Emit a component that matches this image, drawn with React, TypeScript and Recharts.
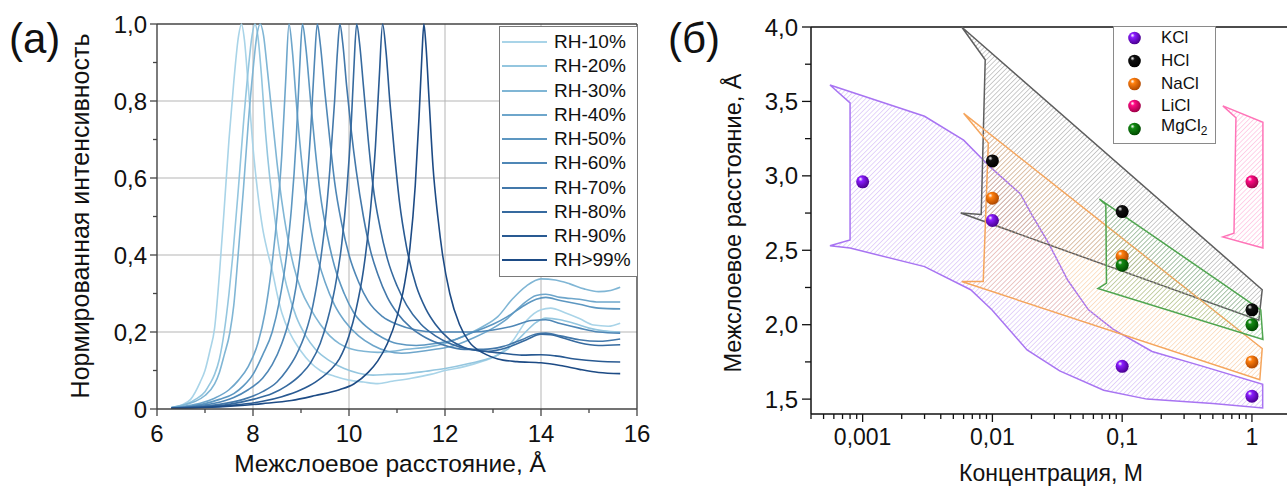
import React from 'react';
import {
  LineChart,
  Line,
  XAxis,
  YAxis,
  ReferenceLine,
  Legend,
  ScatterChart,
  Scatter,
} from 'recharts';

const FONT = '"Liberation Sans", Arial, Helvetica, sans-serif';

// ---------- (а) normalized XRD profiles vs. interlayer spacing ----------
const rhNames = ['RH-10%', 'RH-20%', 'RH-30%', 'RH-40%', 'RH-50%', 'RH-60%', 'RH-70%', 'RH-80%', 'RH-90%', 'RH>99%'];
const rhColors = ['#a9d4e8', '#94c6df', '#80b6d5', '#6ea6cb', '#5d97c1', '#4f87b6', '#4378aa', '#366a9f', '#295a92', '#1d4b85'];

type Pt = [number, number];

const rh10: Pt[] = [
  [6.3, 0.004], [6.5, 0.01], [6.7, 0.025], [6.9, 0.07], [7.0, 0.1], [7.1, 0.15], [7.2, 0.21], [7.3, 0.35],
  [7.4, 0.52], [7.5, 0.7], [7.6, 0.85], [7.7, 0.97], [7.76, 1.0], [7.82, 0.96], [7.9, 0.84], [8.0, 0.68],
  [8.1, 0.56], [8.2, 0.47], [8.3, 0.41], [8.4, 0.36], [8.5, 0.3], [8.6, 0.25], [8.8, 0.19], [9.0, 0.15],
  [9.2, 0.12], [9.4, 0.1], [9.7, 0.085], [10.0, 0.075], [10.3, 0.07], [10.6, 0.066], [10.9, 0.072],
  [11.3, 0.08], [11.7, 0.09], [12.0, 0.1], [12.4, 0.11], [12.8, 0.125], [13.1, 0.14], [13.4, 0.175],
  [13.7, 0.23], [14.0, 0.258], [14.2, 0.262], [14.5, 0.25], [14.8, 0.235], [15.1, 0.218], [15.4, 0.215], [15.65, 0.223],
];
const rh20: Pt[] = [
  [6.3, 0.004], [6.6, 0.012], [6.8, 0.025], [7.0, 0.045], [7.1, 0.065], [7.2, 0.09], [7.3, 0.13], [7.4, 0.2],
  [7.5, 0.3], [7.58, 0.4], [7.7, 0.58], [7.8, 0.74], [7.9, 0.88], [7.98, 0.97], [8.04, 1.0], [8.1, 0.97],
  [8.18, 0.86], [8.26, 0.72], [8.35, 0.6], [8.45, 0.5], [8.55, 0.41], [8.7, 0.32], [8.9, 0.24], [9.1, 0.19],
  [9.3, 0.155], [9.6, 0.125], [9.9, 0.105], [10.2, 0.093], [10.5, 0.088], [10.8, 0.09], [11.2, 0.092],
  [11.6, 0.098], [12.0, 0.105], [12.5, 0.118], [13.0, 0.135], [13.3, 0.155], [13.6, 0.19], [13.9, 0.225],
  [14.1, 0.236], [14.4, 0.232], [14.7, 0.222], [15.0, 0.21], [15.3, 0.203], [15.65, 0.2],
];
const rh30: Pt[] = [
  [6.3, 0.004], [6.6, 0.012], [6.8, 0.02], [7.0, 0.035], [7.2, 0.065], [7.3, 0.095], [7.4, 0.14], [7.52, 0.2],
  [7.6, 0.27], [7.69, 0.4], [7.8, 0.57], [7.9, 0.74], [8.0, 0.88], [8.08, 0.97], [8.15, 1.0], [8.22, 0.97],
  [8.3, 0.88], [8.4, 0.76], [8.5, 0.64], [8.6, 0.54], [8.7, 0.46], [8.85, 0.37], [9.0, 0.31], [9.2, 0.26],
  [9.4, 0.22], [9.6, 0.19], [9.8, 0.17], [10.0, 0.158], [10.3, 0.15], [10.6, 0.147], [10.9, 0.15],
  [11.2, 0.155], [11.6, 0.16], [12.0, 0.17], [12.4, 0.19], [12.8, 0.215], [13.1, 0.24], [13.4, 0.285],
  [13.7, 0.32], [14.0, 0.338], [14.3, 0.335], [14.6, 0.325], [14.9, 0.312], [15.2, 0.305], [15.45, 0.308], [15.65, 0.316],
];
const rh40: Pt[] = [
  [6.3, 0.003], [6.6, 0.008], [6.9, 0.015], [7.2, 0.028], [7.5, 0.05], [7.7, 0.075], [7.9, 0.11], [8.1, 0.17],
  [8.25, 0.25], [8.38, 0.36], [8.5, 0.5], [8.6, 0.66], [8.68, 0.85], [8.75, 1.0], [8.82, 0.93], [8.9, 0.8],
  [9.0, 0.66], [9.1, 0.55], [9.2, 0.47], [9.35, 0.39], [9.5, 0.33], [9.7, 0.27], [9.9, 0.23], [10.2, 0.19],
  [10.5, 0.165], [10.8, 0.15], [11.1, 0.145], [11.4, 0.148], [11.8, 0.155], [12.2, 0.165], [12.6, 0.185],
  [13.0, 0.21], [13.3, 0.235], [13.6, 0.27], [13.9, 0.295], [14.1, 0.298], [14.4, 0.29], [14.8, 0.285],
  [15.2, 0.278], [15.65, 0.278],
];
const rh50: Pt[] = [
  [6.3, 0.003], [6.7, 0.008], [7.0, 0.014], [7.3, 0.025], [7.6, 0.04], [7.8, 0.06], [8.0, 0.09], [8.2, 0.14],
  [8.4, 0.2], [8.55, 0.28], [8.7, 0.4], [8.8, 0.52], [8.9, 0.7], [8.97, 0.88], [9.03, 1.0], [9.1, 0.94],
  [9.2, 0.8], [9.3, 0.67], [9.4, 0.56], [9.55, 0.45], [9.7, 0.37], [9.9, 0.3], [10.1, 0.25], [10.4, 0.21],
  [10.7, 0.185], [11.0, 0.17], [11.4, 0.165], [11.8, 0.17], [12.2, 0.18], [12.6, 0.2], [13.0, 0.22],
  [13.3, 0.24], [13.6, 0.265], [13.9, 0.285], [14.1, 0.29], [14.4, 0.282], [14.8, 0.272], [15.2, 0.262], [15.65, 0.26],
];
const rh60: Pt[] = [
  [6.3, 0.003], [6.8, 0.008], [7.2, 0.015], [7.6, 0.03], [7.9, 0.05], [8.2, 0.08], [8.4, 0.115], [8.6, 0.17],
  [8.75, 0.23], [8.9, 0.32], [9.0, 0.42], [9.1, 0.55], [9.2, 0.72], [9.28, 0.9], [9.34, 1.0], [9.4, 0.95],
  [9.5, 0.82], [9.6, 0.7], [9.7, 0.59], [9.85, 0.48], [10.0, 0.4], [10.2, 0.33], [10.4, 0.28], [10.7, 0.24],
  [11.0, 0.22], [11.4, 0.205], [11.8, 0.2], [12.2, 0.2], [12.6, 0.2], [13.0, 0.205], [13.4, 0.215],
  [13.8, 0.23], [14.1, 0.232], [14.4, 0.222], [14.8, 0.21], [15.2, 0.2], [15.65, 0.197],
];
const rh70: Pt[] = [
  [6.3, 0.002], [6.8, 0.006], [7.3, 0.012], [7.8, 0.025], [8.2, 0.045], [8.5, 0.07], [8.7, 0.1], [8.9, 0.14],
  [9.1, 0.2], [9.25, 0.27], [9.4, 0.38], [9.5, 0.48], [9.6, 0.62], [9.7, 0.8], [9.76, 0.93], [9.81, 1.0],
  [9.87, 0.95], [9.95, 0.84], [10.05, 0.72], [10.15, 0.62], [10.3, 0.5], [10.45, 0.41], [10.6, 0.35],
  [10.8, 0.29], [11.0, 0.25], [11.3, 0.21], [11.6, 0.185], [12.0, 0.165], [12.4, 0.155], [12.8, 0.155],
  [13.2, 0.162], [13.6, 0.18], [13.9, 0.195], [14.1, 0.197], [14.4, 0.19], [14.8, 0.18], [15.2, 0.176], [15.65, 0.182],
];
const rh80: Pt[] = [
  [6.3, 0.002], [6.9, 0.005], [7.5, 0.012], [8.0, 0.025], [8.4, 0.04], [8.7, 0.06], [9.0, 0.09], [9.2, 0.12],
  [9.4, 0.17], [9.55, 0.23], [9.7, 0.31], [9.85, 0.43], [9.95, 0.56], [10.05, 0.75], [10.1, 0.88], [10.16, 1.0],
  [10.22, 0.95], [10.3, 0.84], [10.4, 0.7], [10.5, 0.58], [10.65, 0.47], [10.8, 0.39], [11.0, 0.32],
  [11.2, 0.27], [11.5, 0.22], [11.8, 0.19], [12.1, 0.17], [12.5, 0.155], [12.9, 0.15], [13.3, 0.16],
  [13.7, 0.18], [14.0, 0.194], [14.2, 0.193], [14.5, 0.183], [14.8, 0.172], [15.2, 0.165], [15.65, 0.167],
];
const rh90: Pt[] = [
  [6.3, 0.002], [7.0, 0.005], [7.6, 0.01], [8.2, 0.02], [8.6, 0.032], [9.0, 0.05], [9.3, 0.07], [9.6, 0.1],
  [9.8, 0.13], [10.0, 0.19], [10.15, 0.26], [10.3, 0.36], [10.45, 0.52], [10.55, 0.68], [10.63, 0.86],
  [10.7, 1.0], [10.77, 0.93], [10.85, 0.8], [10.95, 0.66], [11.05, 0.54], [11.2, 0.42], [11.4, 0.32],
  [11.6, 0.26], [11.8, 0.22], [12.1, 0.18], [12.4, 0.16], [12.8, 0.15], [13.2, 0.145], [13.6, 0.14],
  [14.0, 0.141], [14.3, 0.138], [14.7, 0.13], [15.2, 0.124], [15.65, 0.122],
];
const rh99: Pt[] = [
  [6.3, 0.002], [7.0, 0.004], [7.6, 0.008], [8.2, 0.014], [8.8, 0.022], [9.3, 0.035], [9.8, 0.05],
  [10.1, 0.065], [10.4, 0.095], [10.6, 0.125], [10.8, 0.17], [11.0, 0.24], [11.15, 0.32], [11.27, 0.42],
  [11.38, 0.58], [11.46, 0.76], [11.52, 0.92], [11.56, 1.0], [11.6, 0.95], [11.67, 0.8], [11.75, 0.63],
  [11.85, 0.5], [11.95, 0.4], [12.1, 0.3], [12.3, 0.22], [12.5, 0.175], [12.8, 0.145], [13.1, 0.13],
  [13.5, 0.123], [14.0, 0.12], [14.4, 0.113], [14.8, 0.103], [15.2, 0.095], [15.65, 0.092],
];
const rhProfiles = [rh10, rh20, rh30, rh40, rh50, rh60, rh70, rh80, rh90, rh99];

const spacingTicks = [6, 7, 8, 9, 10, 11, 12, 13, 14, 15, 16];
const spacingGrid = [8, 10, 12, 14];
const intensityTicks = [0, 0.1, 0.2, 0.3, 0.4, 0.5, 0.6, 0.7, 0.8, 0.9, 1.0];
const intensityGrid = [0.2, 0.4, 0.6, 0.8];

// ---------- (б) interlayer spacing vs. electrolyte concentration ----------
const saltNames = ['KCl', 'HCl', 'NaCl', 'LiCl', 'MgCl2'];
const saltColors = ['#8a1cff', '#111111', '#ff7f0e', '#ff0a84', '#138a13'];
const saltDark = ['#4a0090', '#000000', '#b04800', '#a00048', '#004a00'];
const saltEdge = ['#a874f2', '#5e5e5e', '#f5a55c', '#ff74b8', '#4fa54f'];
const saltHatch = ['#c3a2f4', '#8c8c8c', '#f7bd86', '#ff9ccb', '#86c286'];

const kclPoints: Pt[] = [[0.001, 2.96], [0.01, 2.7], [0.1, 1.72], [1, 1.52]];
const hclPoints: Pt[] = [[0.01, 3.1], [0.1, 2.76], [1, 2.1]];
const naclPoints: Pt[] = [[0.01, 2.85], [0.1, 2.46], [1, 1.75]];
const liclPoints: Pt[] = [[1, 2.96]];
const mgcl2Points: Pt[] = [[0.1, 2.4], [1, 2.0]];
const saltPoints = [kclPoints, hclPoints, naclPoints, liclPoints, mgcl2Points];

// outlined, hatched regions (vertices in concentration / spacing units)
const kclRegion: Pt[] = [
  [0.00056, 3.61], [0.003, 3.4], [0.006, 3.24], [0.0096, 3.06], [0.0164, 2.88], [0.0198, 2.75],
  [0.027, 2.55], [0.038, 2.3], [0.055, 2.1], [0.085, 1.97], [0.17, 1.82], [0.42, 1.72], [1.21, 1.6],
  [1.21, 1.44], [0.5, 1.47], [0.155, 1.5], [0.072, 1.56], [0.033, 1.69], [0.0185, 1.83], [0.0099, 2.1],
  [0.0068, 2.235], [0.003, 2.39], [0.0008, 2.515], [0.00056, 2.53], [0.0008, 2.57], [0.0008, 3.49],
];
const hclRegion: Pt[] = [[0.0058, 4.0], [1.2, 2.235], [1.13, 2.03], [0.0057, 2.75], [0.0082, 2.74], [0.0088, 3.78]];
const naclRegion: Pt[] = [[0.006, 3.42], [1.2, 1.84], [1.15, 1.63], [0.0058, 2.29], [0.0085, 2.29], [0.0093, 3.22]];
const liclRegion: Pt[] = [[0.597, 3.47], [1.215, 3.36], [1.215, 2.515], [0.597, 2.59], [0.727, 2.615], [0.753, 3.39]];
const mgcl2Region: Pt[] = [[0.0668, 2.844], [1.17, 2.1], [1.215, 1.9], [0.0651, 2.243], [0.0757, 2.28], [0.0748, 2.806]];
const saltRegions = [kclRegion, hclRegion, naclRegion, liclRegion, mgcl2Region];
const regionOrder = [0, 1, 2, 4, 3];

const concTicks = [
  0.0004, 0.0005, 0.0006, 0.0007, 0.0008, 0.0009,
  0.001, 0.002, 0.003, 0.004, 0.005, 0.006, 0.007, 0.008, 0.009,
  0.01, 0.02, 0.03, 0.04, 0.05, 0.06, 0.07, 0.08, 0.09,
  0.1, 0.2, 0.3, 0.4, 0.5, 0.6, 0.7, 0.8, 0.9,
  1, 2,
];
const concMajor = [0.001, 0.01, 0.1, 1];
const concLabels = ['0,001', '0,01', '0,1', '1'];
const spacingTicksB = [1.5, 1.75, 2.0, 2.25, 2.5, 2.75, 3.0, 3.25, 3.5, 3.75, 4.0];

const toXY = (pts: Pt[]) => pts.map(([x, y]) => ({ x, y }));
const comma = (v: number, digits: number) => v.toFixed(digits).replace('.', ',');

// ---------- tick renderers ----------
const XTickA = (props: any) => {
  const { x, y, payload } = props;
  const v = payload.value as number;
  const major = v % 2 === 0;
  return (
    <g>
      <line x1={x} x2={x} y1={y} y2={y + (major ? 7 : 4)} stroke="#444" strokeWidth={1.3} />
      {major && (
        <text x={x} y={y + 33} textAnchor="middle" fontSize={24} fontFamily={FONT} fill="#111">
          {v}
        </text>
      )}
    </g>
  );
};

const YTickA = (props: any) => {
  const { x, y, payload } = props;
  const k = Math.round((payload.value as number) * 10);
  const major = k % 2 === 0;
  return (
    <g>
      <line x1={x - (major ? 7 : 4)} x2={x} y1={y} y2={y} stroke="#444" strokeWidth={1.3} />
      {major && (
        <text x={x - 10} y={y} dy="0.36em" textAnchor="end" fontSize={24} fontFamily={FONT} fill="#111">
          {k === 0 ? '0' : comma(k / 10, 1)}
        </text>
      )}
    </g>
  );
};

const XTickB = (props: any) => {
  const { x, y, payload } = props;
  const idx = concMajor.indexOf(payload.value as number);
  const major = idx >= 0;
  return (
    <g>
      <line x1={x} x2={x} y1={y} y2={y + (major ? 8 : 5)} stroke="#111" strokeWidth={1.3} />
      {major && (
        <text x={x} y={y + 31} textAnchor="middle" fontSize={23} fontFamily={FONT} fill="#111">
          {concLabels[idx]}
        </text>
      )}
    </g>
  );
};

const YTickB = (props: any) => {
  const { x, y, payload } = props;
  const v = payload.value as number;
  const major = Math.round(v * 4) % 2 === 0;
  return (
    <g>
      <line x1={x - (major ? 9 : 6)} x2={x} y1={y} y2={y} stroke="#111" strokeWidth={1.3} />
      {major && (
        <text x={x - 13} y={y} dy="0.36em" textAnchor="end" fontSize={24} fontFamily={FONT} fill="#111">
          {comma(v, 1)}
        </text>
      )}
    </g>
  );
};

// ---------- legends ----------
const RhLegend = (props: any) => {
  const payload = (props.payload || []) as any[];
  const entries = rhNames.map((n) => payload.find((p) => p.value === n)).filter(Boolean);
  return (
    <div
      style={{
        boxSizing: 'border-box',
        width: 139,
        height: 251,
        border: '1px solid #7a7a7a',
        background: '#fff',
        paddingTop: 3,
        fontFamily: FONT,
      }}
    >
      {entries.map((p: any) => (
        <div key={p.value} style={{ height: 24.25, display: 'flex', alignItems: 'center', whiteSpace: 'nowrap' }}>
          <svg width={52} height={6} style={{ marginLeft: 2, flex: 'none' }}>
            <line x1={0} x2={45} y1={3} y2={3} stroke={p.color} strokeWidth={2.2} />
          </svg>
          <span style={{ fontSize: 19, color: '#111', lineHeight: '20px' }}>{p.value}</span>
        </div>
      ))}
    </div>
  );
};

const saltLabel = (name: string) => {
  const m = name.match(/^(.*?)(\d+)$/);
  if (!m) return name;
  return (
    <>
      {m[1]}
      <sub style={{ fontSize: 12, verticalAlign: -4 }}>{m[2]}</sub>
    </>
  );
};

const SaltLegend = (props: any) => {
  const payload = (props.payload || []) as any[];
  const entries = saltNames.map((n) => payload.find((p) => p.value === n)).filter(Boolean);
  return (
    <div
      style={{
        boxSizing: 'border-box',
        width: 103,
        height: 118,
        border: '1px solid #8a8a8a',
        background: '#fff',
        paddingTop: 0,
        fontFamily: FONT,
      }}
    >
      {entries.map((p: any) => {
        const i = saltNames.indexOf(p.value);
        return (
          <div key={p.value} style={{ height: 22.65, display: 'flex', alignItems: 'center', whiteSpace: 'nowrap' }}>
            <svg width={47} height={16} style={{ flex: 'none' }}>
              <circle cx={20.5} cy={8} r={6.3} fill={`url(#ball-${i})`} />
            </svg>
            <span style={{ fontSize: 17, color: '#111', lineHeight: '18px' }}>{saltLabel(p.value)}</span>
          </div>
        );
      })}
    </div>
  );
};

const regionPath = (pts: { x: number; y: number }[]) =>
  pts.map((p, i) => `${i === 0 ? 'M' : 'L'}${p.x.toFixed(2)},${p.y.toFixed(2)}`).join(' ') + ' Z';

// ---------- panels ----------
const ProfilesPanel = () => (
  <LineChart width={660} height={486} margin={{ top: 24, right: 23, bottom: 37, left: 0 }}>
    <XAxis
      type="number"
      dataKey="x"
      domain={[6, 16]}
      ticks={spacingTicks}
      interval={0}
      tickSize={0}
      tickMargin={0}
      tickLine={false}
      tick={(p: any) => <XTickA {...p} />}
      height={40}
      axisLine={{ stroke: '#444', strokeWidth: 1.4 }}
    />
    <YAxis
      type="number"
      dataKey="y"
      domain={[0, 1]}
      ticks={intensityTicks}
      interval={0}
      tickSize={0}
      tickMargin={0}
      tickLine={false}
      tick={(p: any) => <YTickA {...p} />}
      width={157}
      axisLine={{ stroke: '#444', strokeWidth: 1.4 }}
    />
    {spacingGrid.map((v) => (
      <ReferenceLine key={`gx${v}`} x={v} stroke="#b5b5b5" strokeWidth={1} />
    ))}
    {intensityGrid.map((v) => (
      <ReferenceLine key={`gy${v}`} y={v} stroke="#b5b5b5" strokeWidth={1} />
    ))}
    <ReferenceLine y={1} stroke="#444" strokeWidth={1.4} />
    <ReferenceLine x={16} stroke="#444" strokeWidth={1.4} />
    {rhProfiles.map((d, i) => (
      <Line
        key={rhNames[i]}
        data={toXY(d)}
        dataKey="y"
        name={rhNames[i]}
        type="monotone"
        stroke={rhColors[i]}
        strokeWidth={1.6}
        dot={false}
        activeDot={false}
        isAnimationActive={false}
      />
    ))}
    <Legend
      layout="vertical"
      align="center"
      verticalAlign="middle"
      content={(p: any) => <RhLegend {...p} />}
      wrapperStyle={{ left: 499, top: 26, width: 139, height: 251 }}
    />
  </LineChart>
);

const ConcentrationPanel = () => (
  <ScatterChart width={620} height={486} margin={{ top: 27, right: 9, bottom: 32, left: 0 }}>
    <defs>
      {saltColors.map((c, i) => (
        <pattern
          key={`h${i}`}
          id={`hatch-${i}`}
          width={3.4}
          height={3.4}
          patternUnits="userSpaceOnUse"
          patternTransform="rotate(45)"
        >
          <line x1={0} y1={0} x2={0} y2={3.4} stroke={saltHatch[i]} strokeWidth={0.9} />
        </pattern>
      ))}
      {saltColors.map((c, i) => (
        <radialGradient key={`b${i}`} id={`ball-${i}`} cx="0.4" cy="0.38" r="0.62" fx="0.33" fy="0.28">
          <stop offset="0" stopColor="#ffffff" stopOpacity={0.95} />
          <stop offset="0.28" stopColor={c} />
          <stop offset="1" stopColor={saltDark[i]} />
        </radialGradient>
      ))}
    </defs>
    <XAxis
      type="number"
      dataKey="x"
      scale="log"
      domain={[0.0004, 2]}
      ticks={concTicks}
      interval={0}
      tickSize={0}
      tickMargin={0}
      tickLine={false}
      tick={(p: any) => <XTickB {...p} />}
      height={40}
      axisLine={{ stroke: '#111', strokeWidth: 1.5 }}
    />
    <YAxis
      type="number"
      dataKey="y"
      domain={[1.4, 4]}
      ticks={spacingTicksB}
      interval={0}
      tickSize={0}
      tickMargin={0}
      tickLine={false}
      tick={(p: any) => <YTickB {...p} />}
      width={131}
      axisLine={{ stroke: '#111', strokeWidth: 1.5 }}
    />
    <ReferenceLine y={4} stroke="#111" strokeWidth={1.5} />
    {regionOrder.map((i) => (
      <Scatter
        key={`r${i}`}
        name={`${saltNames[i]} область`}
        data={toXY(saltRegions[i])}
        fill={saltEdge[i]}
        legendType="none"
        lineType="joint"
        line={(lp: any) => (
          <path
            d={regionPath(lp.points)}
            fill={`url(#hatch-${i})`}
            stroke={saltEdge[i]}
            strokeWidth={1.5}
            strokeLinejoin="miter"
          />
        )}
        shape={() => <g />}
        isAnimationActive={false}
      />
    ))}
    {saltPoints.map((d, i) => (
      <Scatter
        key={saltNames[i]}
        name={saltNames[i]}
        data={toXY(d)}
        fill={saltColors[i]}
        shape={(p: any) => <circle cx={p.cx} cy={p.cy} r={6.5} fill={`url(#ball-${i})`} />}
        isAnimationActive={false}
      />
    ))}
    <Legend
      layout="vertical"
      align="center"
      verticalAlign="middle"
      content={(p: any) => <SaltLegend {...p} />}
      wrapperStyle={{ left: 433, top: 26, width: 103, height: 118 }}
    />
  </ScatterChart>
);

export default function App() {
  return (
    <div
      style={{
        position: 'absolute',
        left: 0,
        top: 0,
        width: 1287,
        height: 486,
        overflow: 'hidden',
        background: '#fff',
        fontFamily: FONT,
      }}
    >
      <div style={{ position: 'absolute', left: 0, top: 0 }}>
        <ProfilesPanel />
      </div>
      <div style={{ position: 'absolute', left: 680, top: 0 }}>
        <ConcentrationPanel />
      </div>
      <svg
        width={1287}
        height={486}
        style={{ position: 'absolute', left: 0, top: 0, pointerEvents: 'none' }}
        fontFamily={FONT}
        fill="#111"
      >
        <text x={9} y={53} fontSize={42}>(а)</text>
        <text x={668} y={53} fontSize={42}>(б)</text>
        <text x={89} y={216} fontSize={25} textAnchor="middle" transform="rotate(-90 89 216)">
          Нормированная интенсивность
        </text>
        <text x={390} y={472} fontSize={24.5} textAnchor="middle">
          Межслоевое расстояние, Å
        </text>
        <text x={741} y={223} fontSize={23.5} textAnchor="middle" transform="rotate(-90 741 223)">
          Межслоевое расстояние, Å
        </text>
        <text x={1051} y={481} fontSize={23} textAnchor="middle">
          Концентрация, М
        </text>
      </svg>
    </div>
  );
}
